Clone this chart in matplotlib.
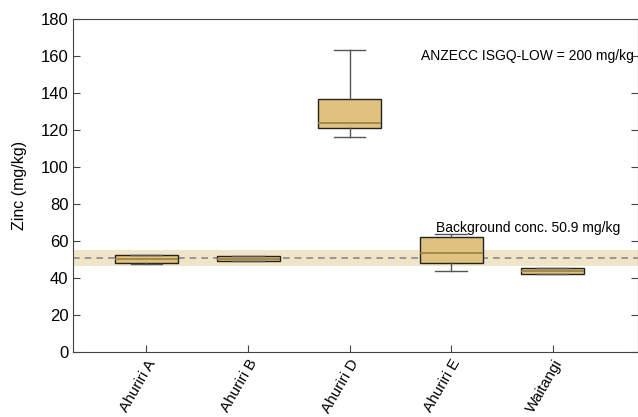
import numpy as np
import matplotlib.pyplot as plt

plt.rcParams['font.family'] = ['Liberation Sans', 'DejaVu Sans']

# site names and box statistics for zinc (mg/kg)
sites = ['Ahuriri A', 'Ahuriri B', 'Ahuriri D', 'Ahuriri E', 'Waitangi']
whislo = [47.8, 49.4, 116.2, 43.8, 42.2]
q1 = [48.3, 49.4, 121.0, 48.1, 42.2]
med = [50.5, 50.6, 123.8, 53.5, 44.0]
q3 = [52.4, 51.9, 136.8, 62.2, 45.4]
whishi = [52.4, 51.9, 163.2, 63.8, 45.4]

background = 50.9
band_lo, band_hi = 46.6, 55.2
isqg_low = 200

stats = []
for i in range(len(sites)):
    stats.append({'label': sites[i], 'whislo': whislo[i], 'q1': q1[i],
                  'med': med[i], 'q3': q3[i], 'whishi': whishi[i], 'fliers': []})

fig = plt.figure(figsize=(6.38, 4.17), dpi=100)
ax = fig.add_axes([0.115, 0.155, 0.885, 0.80])

# background concentration band and line
ax.axhspan(band_lo, band_hi, color='#f1e5c9', zorder=0, lw=0)
ax.axhline(background, color='#8a8a8a', ls=(0, (4, 3)), lw=1.2, zorder=1)

pos = np.arange(len(sites))
ax.bxp(stats, positions=pos, widths=0.62, patch_artist=True, showfliers=False,
       boxprops=dict(facecolor='#dfc27d', edgecolor='#222222', lw=1.0),
       medianprops=dict(color='#9a7f45', lw=1.2),
       whiskerprops=dict(color='#555555', lw=1.0),
       capprops=dict(color='#555555', lw=1.0),
       capwidths=0.31, zorder=2)

# guideline value runs past the right spine, so it is clipped to the axes
ax.text(2.70, 160, 'ANZECC ISGQ-LOW = %d mg/kg' % isqg_low, ha='left', va='center',
        fontsize=10, clip_on=True)
ax.text(2.85, 67, 'Background conc. %.1f mg/kg' % background, ha='left', va='center',
        fontsize=10)

ax.set_xlim(-0.72, 4.84)
ax.set_ylim(0, 180)
ax.set_yticks(np.arange(0, 181, 20))
ax.set_xticks(pos)
ax.set_xticklabels(sites, rotation=60, ha='right', rotation_mode='anchor', fontsize=11)
ax.tick_params(axis='y', labelsize=12, direction='in', right=True, length=5, color='#444444')
ax.tick_params(axis='x', direction='in', length=5, color='#444444')
ax.set_ylabel('Zinc (mg/kg)', fontsize=11.5, labelpad=10)
for s in ax.spines.values():
    s.set_color('#444444')

fig.savefig('out.png', dpi=100)
